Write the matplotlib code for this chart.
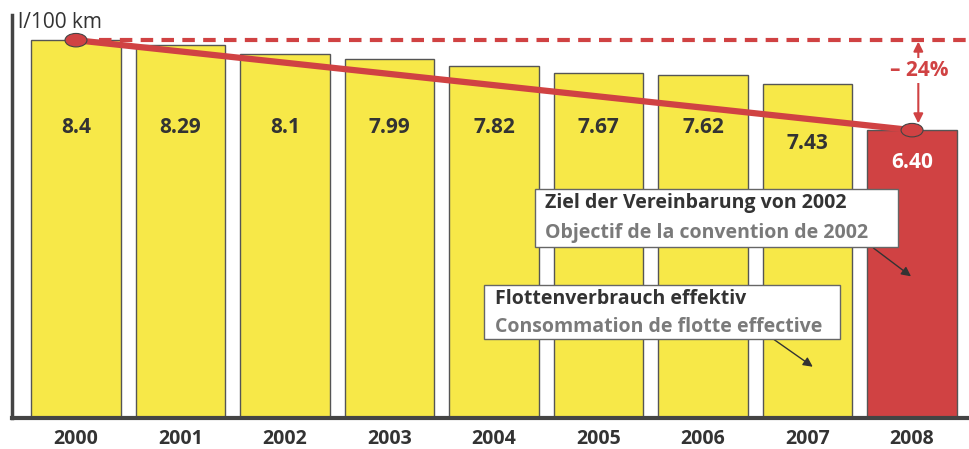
import matplotlib
matplotlib.use('Agg')
import matplotlib.pyplot as plt
from matplotlib.patches import Ellipse, Rectangle

plt.rcParams['font.family'] = ['Open Sans', 'DejaVu Sans']

# данные: средний расход флота, л/100 км
years = ['2000', '2001', '2002', '2003', '2004', '2005', '2006', '2007', '2008']
consumption = [8.4, 8.29, 8.1, 7.99, 7.82, 7.67, 7.62, 7.43, 6.40]
value_labels = ['8.4', '8.29', '8.1', '7.99', '7.82', '7.67', '7.62', '7.43', '6.40']
target_start = 8.4
target_end = 6.40
reduction_label = '– 24%'

YELLOW = '#F7E848'
RED = '#D04243'
DARK = '#333333'
GREY = '#7A7A7A'

fig = plt.figure(figsize=(9.7, 4.49), dpi=100)
ax = fig.add_axes([0.0124, 0.069, 0.9856, 0.8976])

x = list(range(len(years)))
colors = [YELLOW] * (len(years) - 1) + [RED]
ax.bar(x, consumption, width=0.86, color=colors, edgecolor='#555555',
       linewidth=1.0, zorder=2)

# подписи значений внутри столбцов
label_y = [6.45] * 7 + [6.1, 5.68]
for i, (ly, txt) in enumerate(zip(label_y, value_labels)):
    c = 'white' if i == len(years) - 1 else DARK
    ax.text(i, ly, txt, ha='center', va='center', fontsize=15,
            fontweight='bold', color=c, zorder=4)

# линия цели и пунктир исходного уровня
ax.plot([x[0] + 0.22, 8.6], [target_start, target_start], color=RED, lw=3,
        dashes=(3, 2), zorder=3)
ax.plot([x[0], x[-1]], [target_start, target_end], color=RED, lw=4.5,
        solid_capstyle='butt', zorder=5)
for xi, yi in [(x[0], target_start), (x[-1], target_end)]:
    ax.add_patch(Ellipse((xi, yi), 0.21, 0.3, facecolor=RED,
                         edgecolor='#444444', lw=0.8, zorder=6))

# стрелка снижения
ax.annotate('', xy=(8.06, target_start), xytext=(8.06, target_end + 0.15),
            arrowprops=dict(arrowstyle='<|-|>', color=RED, lw=1.5,
                            mutation_scale=14, shrinkA=0, shrinkB=1),
            zorder=6)
ax.text(8.07, 7.72, reduction_label, ha='center', va='center', fontsize=15,
        fontweight='bold', color=RED, zorder=7,
        bbox=dict(facecolor='white', edgecolor='none', pad=1.5))

# пояснения
def note_box(x0, x1, y0, y1, tx, ty1, ty2, line1, line2):
    ax.add_patch(Rectangle((x0, y0), x1 - x0, y1 - y0, facecolor='white',
                           edgecolor='#666666', lw=1, zorder=8))
    ax.text(tx, ty1, line1, fontsize=14, fontweight='bold', color=DARK,
            va='center', ha='left', zorder=9)
    ax.text(tx, ty2, line2, fontsize=14, fontweight='bold', color=GREY,
            va='center', ha='left', zorder=9)

note_box(4.392, 7.866, 3.798, 5.094, 4.49, 4.78, 4.11,
         'Ziel der Vereinbarung von 2002', 'Objectif de la convention de 2002')
ax.annotate('', xy=(7.99, 3.15), xytext=(7.63, 3.78),
            arrowprops=dict(arrowstyle='-|>', color='#333333', lw=1,
                            mutation_scale=14, shrinkA=0, shrinkB=0), zorder=7)

note_box(3.904, 7.311, 1.765, 2.949, 4.01, 2.64, 2.03,
         'Flottenverbrauch effektiv', 'Consommation de flotte effective')
ax.annotate('', xy=(7.05, 1.14), xytext=(6.67, 1.76),
            arrowprops=dict(arrowstyle='-|>', color='#333333', lw=1,
                            mutation_scale=14, shrinkA=0, shrinkB=0), zorder=7)

ax.set_xlim(-0.612, 8.536)
ax.set_ylim(0, 8.96)
for s in ['top', 'right']:
    ax.spines[s].set_visible(False)
ax.spines['left'].set_linewidth(2.5)
ax.spines['bottom'].set_linewidth(3)
ax.spines['left'].set_color('#444444')
ax.spines['bottom'].set_color('#444444')
ax.set_yticks([])
ax.set_xticks(x)
ax.set_xticklabels(years, fontsize=14, fontweight='bold', color=DARK)
ax.tick_params(axis='x', length=0, pad=8)

fig.text(0.019, 0.949, 'l/100 km', fontsize=15, color=DARK, va='center')

fig.savefig('out.png', dpi=100)
